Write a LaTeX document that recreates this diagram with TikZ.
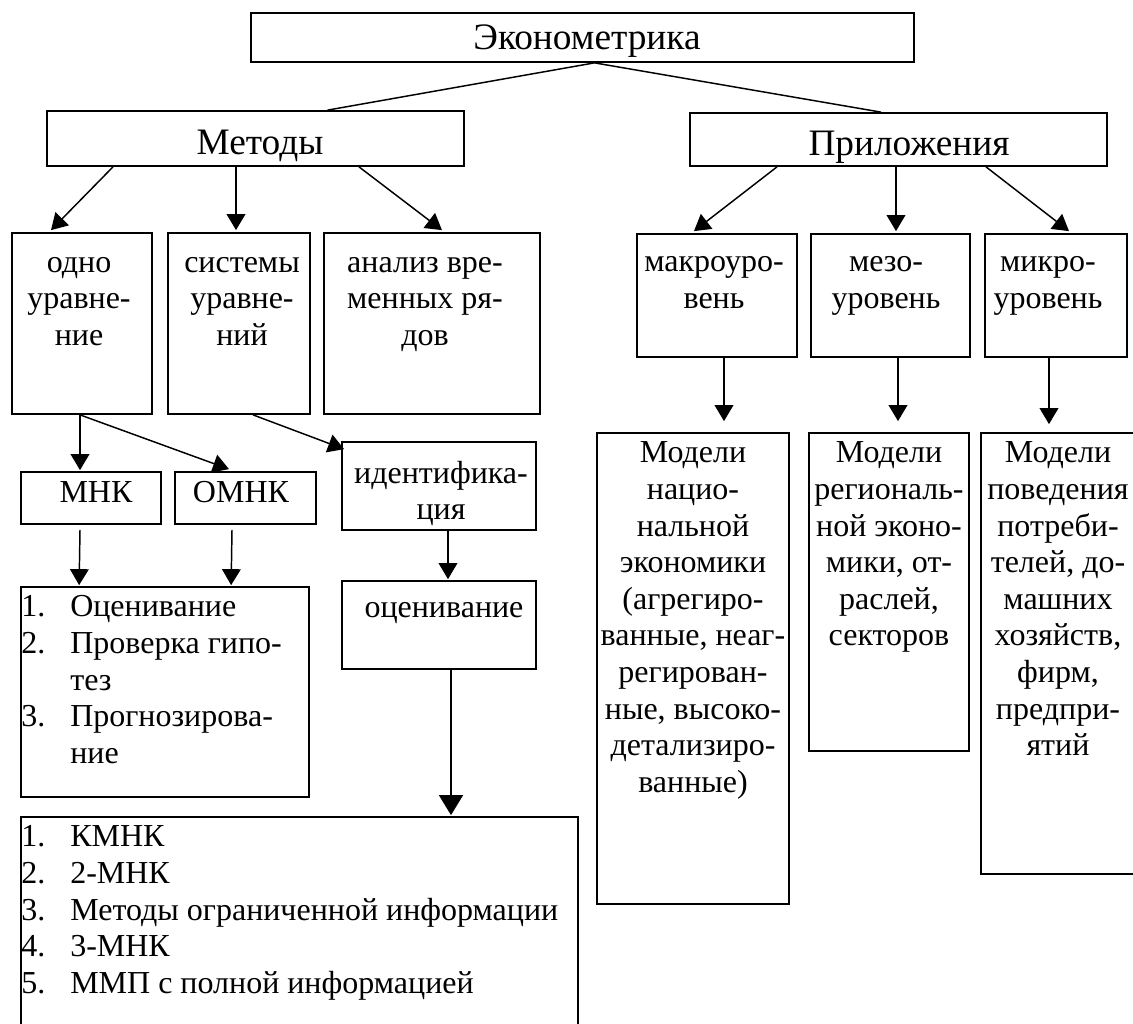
\documentclass[tikz,border=0pt]{standalone}
\usepackage{fontspec}
\setmainfont{Liberation Serif}
\usetikzlibrary{fit,calc,arrows.meta}
\tikzset{
  box/.style={draw, line width=1.3pt, inner sep=0pt, fill=none},
  txt/.style={inner sep=0pt, align=center, font=\fontsize{24}{27.45}\selectfont},
  txtup/.style={inner sep=0pt, align=center, font=\fontsize{24}{27.2}\selectfont},
  big/.style={inner sep=0pt, font=\fontsize{28}{32}\selectfont},
  lst/.style={inner sep=0pt, align=left, anchor=north west, font=\fontsize{24}{27.45}\selectfont},
  ln/.style={line width=1.1pt},
  arr/.style={line width=1.1pt, -{Triangle[length=12pt,width=14pt]}},
  arrbig/.style={line width=1.1pt, -{Triangle[length=15pt,width=18pt]}}
}
\newcommand{\numb}[1]{\makebox[36.75pt][l]{#1}}
\begin{document}
\begin{tikzpicture}[x=0.75pt,y=-0.75pt]
\useasboundingbox (0,0) rectangle (1133,1024);
\fill[white] (0,0) rectangle (1133,1024);
\clip (0,0) rectangle (1133,1024);

% boxes
\node[box, fit={(251,13) (914,62)}] (econ) {};
\node[box, fit={(47,111) (464,166)}] (metody) {};
\node[box, fit={(690,113) (1107,166)}] (prilo) {};
\node[box, fit={(12,233) (152,414)}] (odno) {};
\node[box, fit={(168,233) (310,414)}] (sist) {};
\node[box, fit={(324,233) (540,414)}] (anal) {};
\node[box, fit={(637,234) (797,357)}] (makro) {};
\node[box, fit={(811,234) (970,357)}] (mezo) {};
\node[box, fit={(985,234) (1127,357)}] (mikro) {};
\node[box, fit={(21,472) (161,524)}] (mnk) {};
\node[box, fit={(175,472) (316,524)}] (omnk) {};
\node[box, fit={(342,442) (536,530)}] (ident) {};
\node[box, fit={(342,581) (536,669)}] (ocen) {};
\node[box, fit={(21,587) (309,797)}] (listA) {};
\node[box, fit={(21,817) (578,1045)}] (listB) {};
\node[box, fit={(597,433) (789,904)}] (modA) {};
\node[box, fit={(809,433) (969,751)}] (modB) {};
\node[box, fit={(981,433) (1140,874)}] (modC) {};

% texts
\node[big, anchor=base] (econ-t) at (587,50) {Эконометрика};
\node[big, anchor=base] (metody-t) at (260,155) {Методы};
\node[big, anchor=base] (prilo-t) at (909,156) {Приложения};

\node[txtup, anchor=north] (odno-t) at (79,247) {\strut одно\\уравне-\\ние};
\node[txtup, anchor=north] (sist-t) at (242,247) {\strut системы\\уравне-\\ний};
\node[txtup, anchor=north] (anal-t) at (425,247) {\strut анализ вре-\\менных ря-\\дов};
\node[txt, anchor=north] (makro-t) at (714,246) {\strut макроуро-\\вень};
\node[txt, anchor=north] (mezo-t) at (886,246) {\strut мезо-\\уровень};
\node[txt, anchor=north] (mikro-t) at (1048,246) {\strut микро-\\уровень};
\node[txt, anchor=base] (mnk-t) at (96,502) {МНК};
\node[txt, anchor=base] (omnk-t) at (241,502) {ОМНК};
\node[txt, anchor=base] (ident-t1) at (441,483) {идентифика-};
\node[txt, anchor=base] (ident-t2) at (441,519) {ция};
\node[txt, anchor=base] (ocen-t) at (444,617) {оценивание};

\node[lst] (listA-t) at (21,591) {\strut\numb{1.}Оценивание\\
\numb{2.}Проверка гипо-\\
\numb{}тез\\
\numb{3.}Прогнозирова-\\
\numb{}ние};
\node[lst] (listB-t) at (21,821) {\strut\numb{1.}КМНК\\
\numb{2.}2-МНК\\
\numb{3.}Методы ограниченной информации\\
\numb{4.}3-МНК\\
\numb{5.}ММП с полной информацией};

\node[txt, anchor=north] (modA-t) at (693,437) {\strut Модели\\нацио-\\нальной\\экономики\\(агрегиро-\\ванные, неаг-\\регирован-\\ные, высоко-\\детализиро-\\ванные)};
\node[txt, anchor=north] (modB-t) at (889,437) {\strut Модели\\региональ-\\ной эконо-\\мики, от-\\раслей,\\секторов};
\node[txt, anchor=north] (modC-t) at (1058,437) {\strut Модели\\поведения\\потреби-\\телей, до-\\машних\\хозяйств,\\фирм,\\предпри-\\ятий};

% connectors
\draw[ln] ($(econ.south)+(12,0)$) -- ($(metody.north)+(72,0)$);
\draw[ln] ($(econ.south)+(12,0)$) -- ($(prilo.north)+(-17.5,0)$);

\draw[arr] ($(metody.south)+(-142.5,0)$) -- ($(odno.north)+(-31,-2)$);
\draw[arr] ($(metody.south)+(-19.5,0)$) -- ($(sist.north)+(-3,-2)$);
\draw[arr] ($(metody.south)+(103.5,0)$) -- ($(anal.north)+(10,-2)$);

\draw[arr] ($(prilo.south)+(-121.5,0)$) -- ($(makro.north)+(-23,-2)$);
\draw[arr] ($(prilo.south)+(-2.5,0)$) -- ($(mezo.north)+(5.5,-2)$);
\draw[arr] ($(prilo.south)+(87.5,0)$) -- ($(mikro.north)+(13,-2)$);

\draw[arr] ($(odno.south)+(-2,0)$) -- ($(mnk.north)+(-11,-1)$);
\draw[arr] ($(odno.south)+(-2,0)$) -- ($(omnk.north)+(-16.5,-2)$);
\draw[arr] ($(sist.south)+(14,0)$) -- ($(ident.north west)+(3,8)$);

\draw[arr] ($(mnk.south)+(-11,5)$) -- ($(listA.north west)+(59,-1)$);
\draw[arr] ($(omnk.south)+(-13.5,5)$) -- ($(listA.north west)+(211,-1)$);

\draw[arr] ($(ident.south)+(9,0)$) -- ($(ocen.north)+(9,-1)$);
\draw[arrbig] ($(ocen.south)+(12,0)$) -- ($(listB.north)+(151.5,-1)$);

\draw[arr] ($(makro.south)+(7,0)$) -- ($(modA.north)+(31,-11)$);
\draw[arr] ($(mezo.south)+(7.5,0)$) -- ($(modB.north)+(9,-11)$);
\draw[arr] ($(mikro.south)+(-7,0)$) -- ($(modC.north)+(-11.5,-8)$);
\end{tikzpicture}
\end{document}
